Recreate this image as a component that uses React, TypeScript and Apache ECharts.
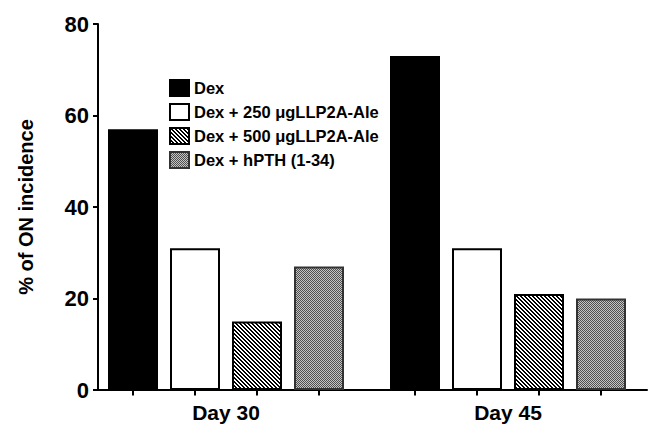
import React, { useEffect, useRef } from "react";
import * as echarts from "echarts";

const categories = ["Day 30", "Day 45"];
const seriesNames = [
  "Dex",
  "Dex + 250 \u03bcgLLP2A-Ale",
  "Dex + 500 \u03bcgLLP2A-Ale",
  "Dex + hPTH (1-34)",
];
const dexValues = [57, 73];
const llp250Values = [31, 31];
const llp500Values = [15, 21];
const hpthValues = [27, 20];
const yTicks = [0, 20, 40, 60, 80];
const yAxisName = "% of ON incidence";

const FONT = "'Liberation Sans', Arial, Helvetica, sans-serif";

function makePattern(kind: "stripe" | "checker") {
  const c = document.createElement("canvas");
  const n = kind === "stripe" ? 4 : 2;
  c.width = n;
  c.height = n;
  const ctx = c.getContext("2d")!;
  for (let y = 0; y < n; y++) {
    for (let x = 0; x < n; x++) {
      if (kind === "stripe") {
        const k = (((x - y) % n) + n) % n;
        ctx.fillStyle = k < 2 ? "#000000" : "#ffffff";
      } else {
        ctx.fillStyle = (x + y) % 2 === 0 ? "#505050" : "#c4c4c4";
      }
      ctx.fillRect(x, y, 1, 1);
    }
  }
  return {
    image: c.toDataURL(),
    repeat: "repeat",
    imageWidth: n,
    imageHeight: n,
  } as any;
}

export default function App() {
  const ref = useRef<HTMLDivElement>(null);
  useEffect(() => {
    if (!ref.current) return;
    document.body.style.margin = "0";
    const chart = echarts.init(ref.current, null, { renderer: "svg" });
    const stripe = makePattern("stripe");
    const checker = makePattern("checker");
    const values = [dexValues, llp250Values, llp500Values, hpthValues];
    const fills: any[] = ["#000000", "#ffffff", stripe, checker];
    const borders = ["#000000", "#000000", "#000000", "#333333"];
    const series = seriesNames.map((name, i) => ({
      name,
      type: "bar",
      xAxisIndex: 0,
      yAxisIndex: 0,
      data: values[i],
      barWidth: 50,
      barGap: "24%",
      clip: false,
      itemStyle: { color: fills[i], borderColor: borders[i], borderWidth: 2 },
      emphasis: { disabled: true },
      markPoint: {
        symbol: "rect",
        symbolSize: [2, 5],
        symbolOffset: [0, 3],
        silent: true,
        label: { show: false },
        itemStyle: { color: "#000000", borderWidth: 0 },
        data: categories.map((_, ci) => ({ coord: [ci, 0] })),
      },
    }));
    chart.setOption({
      animation: false,
      backgroundColor: "#ffffff",
      legend: {
        orient: "vertical",
        left: 169,
        top: 79,
        padding: 0,
        itemWidth: 19,
        itemHeight: 16,
        itemGap: 6,
        icon: "rect",
        selectedMode: false,
        textStyle: {
          fontFamily: FONT,
          fontWeight: "bold",
          fontSize: 16.5,
          color: "#000000",
          lineHeight: 16,
        },
        data: seriesNames,
      },
      grid: [
        { left: 85, right: -8, top: 24, bottom: 35, containLabel: false },
        { left: 98, right: 2, top: 24, bottom: 35, containLabel: false },
      ],
      xAxis: [
        {
          gridIndex: 0,
          type: "category",
          data: categories,
          axisLine: { show: false },
          axisTick: { show: false },
          splitLine: { show: false },
          axisLabel: {
            margin: 12,
            fontFamily: FONT,
            fontWeight: "bold",
            fontSize: 21,
            color: "#000000",
          },
        },
        {
          gridIndex: 1,
          type: "value",
          min: 0,
          max: 1,
          axisLine: { show: true, lineStyle: { color: "#000000", width: 2 } },
          axisTick: { show: false },
          axisLabel: { show: false },
          splitLine: { show: false },
        },
      ],
      yAxis: [
        {
          gridIndex: 0,
          type: "value",
          min: yTicks[0],
          max: yTicks[yTicks.length - 1],
          show: false,
          splitLine: { show: false },
        },
        {
          gridIndex: 1,
          type: "value",
          min: yTicks[0],
          max: yTicks[yTicks.length - 1],
          interval: yTicks[1] - yTicks[0],
          name: yAxisName,
          nameLocation: "middle",
          nameGap: 62,
          nameTextStyle: {
            fontFamily: FONT,
            fontWeight: "bold",
            fontSize: 20,
            color: "#000000",
          },
          axisLine: { show: true, lineStyle: { color: "#000000", width: 2 } },
          axisTick: { show: true, length: 5, lineStyle: { color: "#000000", width: 2 } },
          splitLine: { show: false },
          axisLabel: {
            margin: 9,
            fontFamily: FONT,
            fontWeight: "bold",
            fontSize: 22,
            color: "#000000",
          },
        },
      ],
      series,
    });
    return () => chart.dispose();
  }, []);
  return <div ref={ref} style={{ width: 649, height: 425 }} />;
}
